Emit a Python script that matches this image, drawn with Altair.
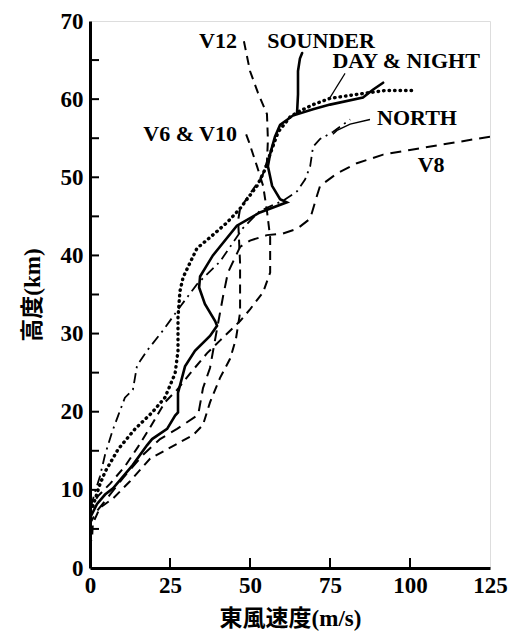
import altair as alt
import pandas as pd

# ---- data (east wind speed m/s, altitude km) ----
sounder_v = [0, 2.2, 4.7, 7.2, 13.4, 17.8, 19.4, 24.1, 26.6, 27.5, 27.5, 29.7, 32.8, 37.5, 39.7, 39.1,
             35.9, 34.1, 34.4, 36.6, 38.4, 45.9, 53.1, 61.5, 59.4, 56.9, 55.6, 56.3, 57.8, 59.4, 63.4,
             69.7, 75.0, 85.3, 88.4, 91.6]
sounder_h = [6.4, 8.2, 9.4, 10.2, 13.2, 15.7, 16.5, 17.8, 19.5, 19.9, 22.4, 25.8, 27.8, 29.7, 31.0, 31.6,
             33.8, 35.9, 37.3, 38.8, 40.0, 43.8, 45.5, 46.8, 47.2, 48.9, 51.4, 53.0, 55.2, 56.7, 57.9,
             58.7, 59.3, 60.2, 61.2, 62.1]
sounder_top_v = [64.7, 65.0, 65.0, 65.6, 66.3]
sounder_top_h = [58.2, 60.6, 63.6, 65.2, 65.9]

daynight_v = [0.9, 3.1, 4.7, 8.8, 14.1, 19.4, 23.4, 26.6, 27.5, 27.5, 28.1, 29.1, 33.4, 37.5, 42.8,
              46.9, 52.2, 54.7, 56.3, 58.8, 62.5, 64.7, 69.7, 75.0, 86.6, 92.2, 100.6]
daynight_h = [7.9, 10.7, 12.3, 15.2, 17.8, 19.9, 21.8, 24.9, 27.8, 32.1, 35.4, 37.2, 40.9, 42.3, 44.2,
              46.0, 48.9, 51.0, 53.0, 55.8, 57.7, 58.3, 59.3, 60.1, 60.8, 61.1, 61.1]

north_v = [0.3, 1.6, 3.1, 4.7, 6.9, 8.8, 10.9, 13.4, 14.7, 17.8, 22.8, 28.1, 33.4, 40.6, 47.8, 53.1,
           60.3, 64.7, 67.2, 68.8, 69.7, 71.9, 75.9, 81.3]
north_h = [7.9, 9.8, 11.7, 14.5, 17.4, 19.5, 21.8, 22.8, 25.9, 27.8, 30.4, 33.4, 36.3, 39.2, 43.5, 45.7,
           47.0, 48.2, 49.7, 51.4, 53.9, 54.9, 55.8, 57.4]

v6v10_v = [48.8, 49.7, 52.2, 54.1, 55.3, 56.3, 56.3, 54.1, 50.0, 46.9, 40.6, 36.6, 31.3, 27.2, 23.4,
           18.8, 15.0, 10.9, 6.3, 2.5, 0]
v6v10_h = [55.5, 54.5, 51.4, 48.9, 45.7, 42.3, 37.8, 35.3, 33.1, 31.6, 29.1, 27.5, 24.9, 22.8, 21.2,
           18.0, 15.5, 13.0, 10.8, 9.2, 7.6]

v12_v = [48.1, 50.0, 52.5, 55.3, 55.6, 55.3, 53.8, 50.0, 46.9, 46.3, 46.9, 46.9, 45.6, 43.8, 40.6,
         37.5, 35.3, 32.2, 27.2, 18.8, 12.5, 7.2, 3.1, 0.9, 0.6]
v12_h = [67.4, 63.6, 60.8, 58.1, 54.8, 52.0, 50.1, 47.9, 46.0, 44.5, 39.0, 32.7, 29.3, 26.8, 24.3,
         21.2, 18.3, 17.0, 15.9, 14.0, 11.1, 8.9, 7.7, 5.7, 3.5]

v8_v = [125, 110.3, 100, 91.6, 83.4, 77.2, 71.9, 70.9, 68.8, 64.7, 60.3, 55.3, 50.0, 46.9, 45.3, 43.1,
        41.6, 39.7, 37.5, 35.3, 33.8, 27.2, 21.9, 16.6, 10.3, 5.3, 2.2, 0]
v8_h = [55.2, 54.2, 53.5, 52.9, 51.8, 50.5, 48.9, 47.6, 44.7, 43.4, 42.8, 42.6, 41.9, 41.1, 39.7, 37.8,
        34.8, 30.6, 25.6, 23.0, 19.6, 17.8, 16.5, 14.5, 11.5, 8.9, 7.3, 5.7]

# leader lines
dn_leader_v = [79.7, 75.0]
dn_leader_h = [63.3, 60.2]
north_leader_v = [87.5, 81.3, 77.2, 75.9]
north_leader_h = [57.4, 56.8, 56.0, 55.5]

labels = ["V12", "SOUNDER", "DAY & NIGHT", "NORTH", "V6 & V10", "V8"]
label_v = [40.0, 72.2, 98.8, 102.2, 31.3, 106.6]
label_h = [67.5, 67.5, 64.9, 57.6, 55.5, 51.6]

x_ticks = [25, 50, 75, 100]
y_ticks = [5, 10, 15, 20, 25, 30, 35, 40, 45, 50, 55, 60, 65]
x_labels = [0, 25, 50, 75, 100, 125]
y_labels = [0, 10, 20, 30, 40, 50, 60, 70]

W, H = 400, 547
SERIF = "Liberation Serif, 'Noto Sans CJK JP'"
xs = alt.Scale(domain=[0, 125], nice=False, zero=False)
ys = alt.Scale(domain=[0, 70], nice=False, zero=False)

x_axis = alt.Axis(values=x_labels, ticks=False, grid=False, domain=True, domainWidth=3, domainColor="black",
                  labelFlush=False,
                  labelFont=SERIF, labelFontSize=23, labelFontWeight="bold", labelColor="black",
                  labelPadding=6, title="東風速度(m/s)", titleFont=SERIF, titleFontSize=23,
                  titleFontWeight="bold", titleColor="black", titlePadding=10)
y_axis = alt.Axis(values=y_labels, ticks=False, grid=False, domain=True, domainWidth=3, domainColor="black",
                  labelFont=SERIF, labelFontSize=23, labelFontWeight="bold", labelColor="black",
                  labelPadding=7, title="高度(km)", titleFont=SERIF, titleFontSize=23,
                  titleFontWeight="bold", titleColor="black", titlePadding=16)


def X(field):
    return alt.X(field, scale=xs, axis=x_axis)


def Y(field):
    return alt.Y(field, scale=ys, axis=y_axis)


def path(v, h, dash=None, width=2.2, cap="butt"):
    df = pd.DataFrame({"v": v, "h": h, "i": list(range(len(v)))})
    kw = dict(color="black", strokeWidth=width, strokeCap=cap, clip=True)
    if dash:
        kw["strokeDash"] = dash
    return alt.Chart(df).mark_line(**kw).encode(x=X("v:Q"), y=Y("h:Q"), order="i:Q")


layers = [
    path(sounder_v, sounder_h, None, 2.6, "round"),
    path(sounder_top_v, sounder_top_h, None, 2.6, "round"),
    path(daynight_v, daynight_h, [0.5, 5], 3.4, "round"),
    path(north_v, north_h, [10, 5, 2, 5], 1.8),
    path(v6v10_v, v6v10_h, [9, 6], 2.0),
    path(v12_v, v12_h, [9, 6], 2.0),
    path(v8_v, v8_h, [11, 7], 2.0),
    path(dn_leader_v, dn_leader_h, None, 1.2),
    path(north_leader_v, north_leader_h, None, 1.4),
]

xt = alt.Chart(pd.DataFrame({"v": x_ticks})).mark_rule(color="black", strokeWidth=2).encode(
    x=X("v:Q"), y=alt.value(H), y2=alt.value(H - 10))
yt = alt.Chart(pd.DataFrame({"h": y_ticks})).mark_rule(color="black", strokeWidth=2).encode(
    y=Y("h:Q"), x=alt.value(0), x2=alt.value(9))

txt = alt.Chart(pd.DataFrame({"label": labels, "v": label_v, "h": label_h})).mark_text(
    font="Liberation Serif", fontWeight="bold", fontSize=22, color="black", align="center", baseline="middle"
).encode(x=X("v:Q"), y=Y("h:Q"), text="label:N")

chart = alt.layer(*layers, xt, yt, txt).properties(
    width=W, height=H,
    autosize=alt.AutoSizeParams(type="none"),
    padding={"left": 82, "top": 13, "right": 21, "bottom": 64},
).configure_view(stroke="black", strokeWidth=2).configure(background="white")

chart.save("out.html", embed_options={"renderer": "svg", "actions": False})
